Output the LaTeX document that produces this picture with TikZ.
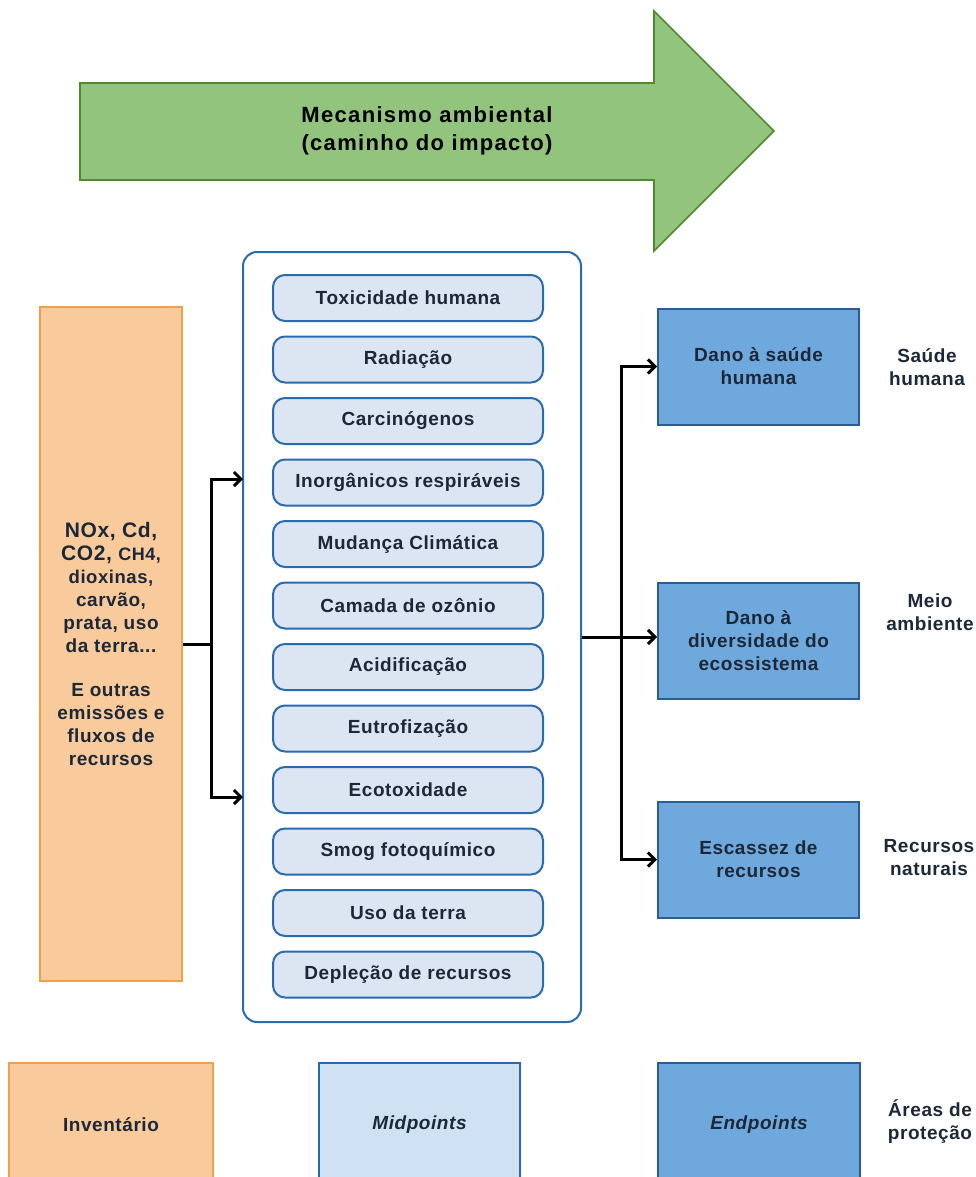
\documentclass[tikz,border=0pt]{standalone}
\usepackage{fontspec}
\setmainfont{Liberation Sans}
\usetikzlibrary{arrows.meta}
\definecolor{arrowfill}{HTML}{93C47D}
\definecolor{arrowdraw}{HTML}{4F8A2E}
\definecolor{invfill}{HTML}{F9CB9C}
\definecolor{invdraw}{HTML}{EFA04A}
\definecolor{midfill}{HTML}{DCE6F2}
\definecolor{middraw}{HTML}{2A6AAE}
\definecolor{legmid}{HTML}{CFE2F3}
\definecolor{endfill}{HTML}{6FA8DC}
\definecolor{enddraw}{HTML}{2A5C96}
\definecolor{txt}{HTML}{1C2838}
\begin{document}
\begin{tikzpicture}[x=1pt,y=-1pt,
  lbl/.style={font=\bfseries\fontsize{19}{23}\selectfont\addfontfeature{LetterSpace=3}, text=txt, align=center},
  invbox/.style={draw=invdraw, fill=invfill, line width=2pt, inner sep=0pt, lbl},
  container/.style={draw=middraw, fill=white, line width=2pt, rounded corners=14pt, inner sep=0pt},
  midbox/.style={draw=middraw, fill=midfill, line width=2pt, rounded corners=12pt, minimum width=270, minimum height=46, inner sep=0pt, lbl},
  legmidbox/.style={draw=middraw, fill=legmid, line width=2pt, inner sep=0pt, lbl},
  endbox/.style={draw=enddraw, fill=endfill, line width=2pt, minimum width=201, minimum height=116, inner sep=0pt, lbl},
  conn/.style={draw=black, line width=3pt},
  arr/.style={conn, -{Straight Barb[length=7pt,width=14pt,line width=3pt]}},
]
\useasboundingbox (0,0) rectangle (976,1177);

% big green arrow
\draw[arrowdraw, fill=arrowfill, line width=1.6pt, line join=miter]
  (80,83) -- (654,83) -- (654,11) -- (774,131) -- (654,251) -- (654,180) -- (80,180) -- cycle;
\node[lbl, font=\bfseries\fontsize{22}{28}\selectfont\addfontfeature{LetterSpace=6}, text=black] (title) at (427,131)
  {Mecanismo ambiental\\(caminho do impacto)};

% inventory
\node[invbox, minimum width=142, minimum height=674] (inv) at (111,644)
  {\fontsize{21}{22}\selectfont NOx, Cd,\\
   \fontsize{21}{22}\selectfont CO2, {\fontsize{18}{22}\selectfont CH4,}\\
   \fontsize{18.5}{21.5}\selectfont dioxinas,\\carvão,\\prata, uso\\da terra...\\[21.5pt]
   E outras\\emissões e\\fluxos de\\recursos};

% midpoints container
\node[container, minimum width=338, minimum height=770] (mid) at (412,637) {};
\foreach \i/\t in {0/Toxicidade humana, 1/Radiação, 2/Carcinógenos,
  3/Inorgânicos respiráveis, 4/Mudança Climática, 5/Camada de ozônio,
  6/Acidificação, 7/Eutrofização, 8/Ecotoxidade, 9/Smog fotoquímico,
  10/Uso da terra, 11/Depleção de recursos}
  \node[midbox] (m\i) at (408,298+61.5*\i) {\t};

% endpoints
\node[endbox] (e1) at (758.5,366.5) {Dano à saúde\\humana};
\node[endbox] (e2) at (758.5,640.5) {Dano à\\diversidade do\\ecossistema};
\node[endbox] (e3) at (758.5,859.5) {Escassez de\\recursos};

% areas of protection
\node[lbl] (a1) at (927,367) {Saúde\\humana};
\node[lbl] (a2) at (930,612) {Meio\\ambiente};
\node[lbl] (a3) at (929,858) {Recursos\\naturais};
\node[lbl] (a4) at (930,1122) {Áreas de\\proteção};

% connectors left
\coordinate (jl) at (211,644);
\coordinate (in1) at (243,479);
\coordinate (in2) at (243,797);
\draw[conn] (inv.east) -- (jl);
\draw[arr] (jl) |- (in1);
\draw[arr] (jl) |- (in2);

% connectors right
\coordinate (jr) at (621,637);
\draw[arr] (mid.east) -- (mid.east -| e2.west);
\draw[arr] (jr) |- (e1.west);
\draw[arr] (jr) |- (e3.west);

% legend
\node[invbox, minimum width=204, minimum height=124] (l1) at (111,1125) {Inventário};
\node[legmidbox, minimum width=201, minimum height=124] (l2) at (419.5,1125) {\itshape Midpoints};
\node[endbox, minimum width=202, minimum height=124] (l3) at (759,1125) {\itshape Endpoints};
\end{tikzpicture}
\end{document}
